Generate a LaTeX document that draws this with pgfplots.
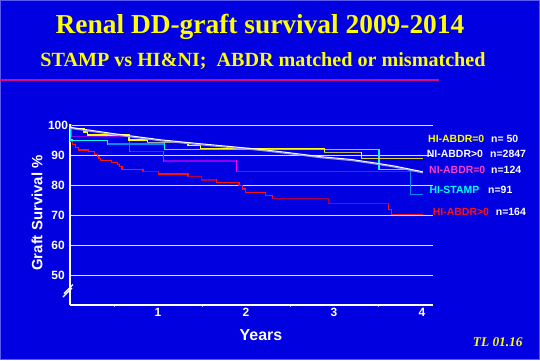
\documentclass[border=0pt]{standalone}
\usepackage{pgfplots}
\pgfplotsset{compat=1.18}
\usepackage{fontspec}
\setmainfont{Liberation Sans}
\newfontfamily\serif{Liberation Serif}
\definecolor{bg}{RGB}{0,0,225}
\definecolor{bord}{RGB}{90,90,240}
\definecolor{mag}{RGB}{210,10,140}
\definecolor{gridc}{RGB}{225,225,255}
\definecolor{ylw}{RGB}{255,255,0}
\definecolor{khaki}{RGB}{185,180,90}
\definecolor{olive2}{RGB}{215,210,50}
\definecolor{grayl}{RGB}{165,165,165}
\definecolor{cyn}{RGB}{0,255,255}
\definecolor{azure}{RGB}{0,140,255}
\definecolor{magl}{RGB}{255,0,255}
\definecolor{vio}{RGB}{140,0,240}
\definecolor{redl}{RGB}{255,16,16}
\definecolor{maroon}{RGB}{175,0,80}
\definecolor{pinkl}{RGB}{255,60,200}
\definecolor{lav}{RGB}{150,150,235}
\begin{document}
\begin{tikzpicture}
\begin{scope}[x=1bp,y=1bp]
\useasboundingbox (0,0) rectangle (540,360);
\fill[bg] (0,0) rectangle (540,360);
\draw[bord, line width=1bp] (0.5,0.5) rectangle (539.5,359.5);
\node[anchor=base, text=ylw, inner sep=0] at (260,326.5) {\serif\bfseries\fontsize{27.5}{30}\selectfont Renal DD-graft survival 2009-2014};
\node[anchor=base, text=ylw, inner sep=0] at (263,293.5) {\serif\bfseries\fontsize{20.2}{22}\selectfont STAMP vs HI\&NI;\ \ ABDR matched or mismatched};
\fill[mag] (0,278.8) rectangle (439,281.5);
\end{scope}
\begin{axis}[
  at={(70bp,55bp)}, anchor=south west,
  scale only axis, width=362.6bp, height=181.5bp,
  xmin=0, xmax=4.12, ymin=40, ymax=100.5,
  axis lines=left,
  axis line style={white, line width=1.6bp, -},
  xtick={1,2,3,4}, ytick={50,60,70,80,90,100},
  minor xtick={0.5,1.5,2.5,3.5},
  major tick length=0pt, minor tick length=2bp,
  tick align=outside,
  minor tick style={white!60!bg, line width=0.6bp},
  ymajorgrids, grid style={gridc, line width=0.7bp},
  ticklabel style={white, font=\bfseries\fontsize{12}{12}\selectfont},
  /pgf/number format/assume math mode=true,
  xticklabel style={anchor=center, yshift=-7bp},
  yticklabel style={anchor=center, xshift=-12bp},
  clip=false,
  every axis plot/.append style={line width=1.2bp},
  unbounded coords=jump,
]
% HI-ABDR>0 n=164 (red)
\addplot[redl, const plot] coordinates {(0,100)(0.003,94.5)(0.03,93.4)(0.06,92.6)(0.1,91.7)(0.21,91.1)(0.28,90.2)(0.31,89.5)(0.33,88.9)(0.35,88.3)(0.47,87.6)(0.54,86.9)(0.56,86.2)(0.59,85.3)(0.83,84.4)(1.01,83.7)(1.34,82.8)(1.49,81.7)(1.66,80.9)(1.92,79.8)(1.96,78.7)(1.99,77.6)(2.22,76.6)(2.30,75.4)(2.94,73.8)(3.62,71.9)(3.65,70.2)(4.01,70.2)};
\addplot[maroon, const plot] coordinates {(0.83,84.4)(1.01,84.4)};
\addplot[maroon, const plot] coordinates {(1.34,82.8)(1.49,81.7)(1.66,81.7)};
\addplot[maroon, const plot] coordinates {(2.30,75.4)(2.94,73.8)(3.62,73.8)};
% NI-ABDR=0 n=124 (magenta / violet)
\addplot[magl, const plot] coordinates {(0,100)(0.02,96.3)(0.68,91.1)(1.06,88.0)(1.89,84.4)(4.01,84.4)};
\addplot[vio] coordinates {(0.02,96.3)(0.68,96.3)(0.68,nan)(0.69,91.1)(1.06,91.1)(1.06,nan)(1.07,88.0)(1.89,88.0)(1.89,nan)(1.90,84.4)(4.01,84.4)};
% HI-STAMP n=91 (cyan)
\addplot[cyn, const plot] coordinates {(0,100)(0.01,95.0)(0.03,94.8)(0.43,93.7)(1.07,91.9)(3.51,85.2)(3.87,76.9)(4.01,76.9)};
\addplot[azure] coordinates {(0.43,93.7)(1.07,93.7)};
\addplot[azure, const plot] coordinates {(3.87,85.2)(3.87,76.9)(4.01,76.9)};
% HI-ABDR=0 n=50 (yellow)
\addplot[ylw, const plot] coordinates {(0,100)(0.005,98.9)(0.16,97.7)(0.2,96.7)(0.67,95.0)(0.88,94.1)(1.34,93.1)(1.48,92.2)(2.89,90.8)(3.31,88.9)(4.01,88.9)};
\addplot[grayl] coordinates {(0.88,94.1)(1.34,94.1)};
\addplot[khaki] coordinates {(2.89,90.8)(3.31,90.8)};
\addplot[olive2] coordinates {(3.31,88.9)(4.01,88.9)};
% NI-ABDR>0 n=2847 (white)
\addplot[lav, line width=1.2bp, yshift=-1bp] coordinates {(0,100)(0.01,99.2)(0.5,97.1)(1.05,95.0)(1.5,93.7)(2.16,91.9)(2.48,90.8)(2.86,89.4)(3.2,88.5)(3.5,87.2)(3.69,86.3)(4.01,84.4)};
\addplot[white, line width=1.0bp] coordinates {(0,100)(0.01,99.2)(0.5,97.1)(1.05,95.0)(1.5,93.7)(2.16,91.9)(2.48,90.8)(2.86,89.4)(3.2,88.5)(3.5,87.2)(3.69,86.3)(4.01,84.4)};
\end{axis}
\begin{scope}[x=1bp,y=1bp]
\draw[white, line width=1.3bp] (63,63)--(72,72) (64,66.5)--(73,75.5);
\node[rotate=90, text=white] at (37,147) {\bfseries\fontsize{15}{15}\selectfont Graft Survival \%};
\node[text=white] at (261,25) {\bfseries\fontsize{16}{16}\selectfont Years};
\node[anchor=base, text=ylw, inner sep=0] at (497.7,13.5) {\serif\bfseries\itshape\fontsize{13.4}{14}\selectfont TL 01.16};
\begin{scope}[every node/.style={anchor=west, inner sep=0, font=\bfseries\fontsize{10.5}{11}\selectfont}]
\node[text=ylw] at (428,220.7) {HI-ABDR=0};
\node[text=white] at (491,220.7) {n= 50};
\node[text=white] at (426.7,205.7) {NI-ABDR>0};
\node[text=white] at (490,205.7) {n=2847};
\node[text=pinkl] at (429,190) {NI-ABDR=0};
\node[text=white] at (491,190) {n=124};
\node[text=cyn] at (429.3,170) {HI-STAMP};
\node[text=white] at (488,170) {n=91};
\node[text=redl] at (432.7,148.3) {HI-ABDR>0};
\node[text=white] at (495.7,148.3) {n=164};
\end{scope}
\end{scope}
\end{tikzpicture}
\end{document}
